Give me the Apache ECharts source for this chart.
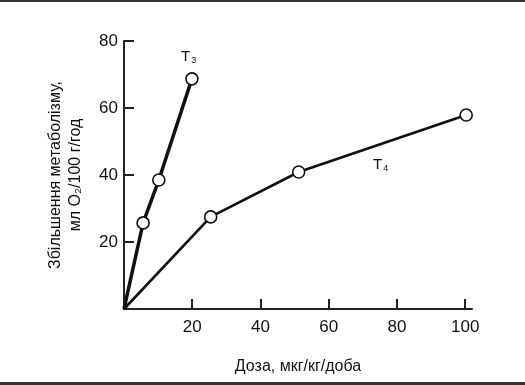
<!DOCTYPE html>
<html>
<head>
<meta charset="utf-8">
<script src="https://cdn.jsdelivr.net/npm/echarts@6/dist/echarts.min.js"></script>
<style>html,body{margin:0;padding:0;background:#fff}#c{width:525px;height:385px}</style>
</head>
<body>
<div id="c"></div>
<script>
// Data
const t3Dose = [0, 5.6, 10.2, 19.9];
const t3Values = [0, 25.7, 38.5, 68.7];
const t4Dose = [0, 25.4, 51.2, 100.3];
const t4Values = [0, 27.5, 40.9, 57.9];
const xTicks = [20, 40, 60, 80, 100];
const yTicks = [20, 40, 60, 80];
const xName = 'Доза, мкг/кг/доба';
const yName = ['Збільшення метаболізму,', 'мл O₂/100 г/год'];

const FONT = '"Liberation Sans", Arial, sans-serif';
// origin point has no marker in the reference
const pairs = (xs, ys) => xs.map((x, i) => (
  i === 0 ? {value: [x, ys[i]], symbol: 'none'} : [x, ys[i]]
));

const chart = echarts.init(document.getElementById('c'), null, {renderer: 'canvas'});
chart.setOption({
  animation: false,
  backgroundColor: '#fff',
  grid: {left: 124, right: 53, top: 41, bottom: 76},
  xAxis: {
    type: 'value', min: 0, max: 102,
    name: xName, nameLocation: 'middle', nameGap: 50,
    nameTextStyle: {fontFamily: FONT, fontSize: 16, color: '#111'},
    axisLine: {show: true, lineStyle: {color: '#222', width: 2}},
    axisTick: {show: true, inside: true, length: 10, customValues: xTicks, lineStyle: {color: '#222', width: 2}},
    axisLabel: {customValues: xTicks, fontFamily: FONT, fontSize: 17, color: '#111', margin: 10},
    splitLine: {show: false}
  },
  yAxis: {
    type: 'value', min: 0, max: 80,
    name: yName.join('\n'), nameLocation: 'middle', nameGap: 38, nameRotate: 90,
    nameTextStyle: {fontFamily: FONT, fontSize: 16, color: '#111', lineHeight: 20},
    axisLine: {show: true, lineStyle: {color: '#222', width: 2}},
    axisTick: {show: true, inside: true, length: 10, customValues: yTicks, lineStyle: {color: '#222', width: 2}},
    axisLabel: {customValues: yTicks, fontFamily: FONT, fontSize: 17, color: '#111', margin: 6},
    splitLine: {show: false}
  },
  series: [
    {
      name: 'T3', type: 'line', data: pairs(t3Dose, t3Values),
      lineStyle: {color: '#111', width: 3.5},
      symbol: 'circle', symbolSize: 12,
      itemStyle: {color: '#fff', borderColor: '#111', borderWidth: 1.6},
      z: 3
    },
    {
      name: 'T4', type: 'line', data: pairs(t4Dose, t4Values),
      lineStyle: {color: '#111', width: 2.6},
      symbol: 'circle', symbolSize: 12,
      itemStyle: {color: '#fff', borderColor: '#111', borderWidth: 1.6},
      z: 3
    }
  ],
  graphic: [
    {type: 'rect', shape: {x: 0, y: 0, width: 525, height: 2}, style: {fill: '#333'}},
    {type: 'rect', shape: {x: 0, y: 382, width: 525, height: 3}, style: {fill: '#333'}},
    {type: 'text', left: 181, top: 49, style: {
      text: '{t|T}{s|3}', rich: {
        t: {fontFamily: FONT, fontSize: 15, fill: '#111'},
        s: {fontFamily: FONT, fontSize: 9, fill: '#111', padding: [8, 0, 0, 1]}
      }}},
    {type: 'text', left: 373, top: 157, style: {
      text: '{t|T}{s|4}', rich: {
        t: {fontFamily: FONT, fontSize: 15, fill: '#111'},
        s: {fontFamily: FONT, fontSize: 9, fill: '#111', padding: [8, 0, 0, 1]}
      }}}
  ]
});
</script>
</body>
</html>
